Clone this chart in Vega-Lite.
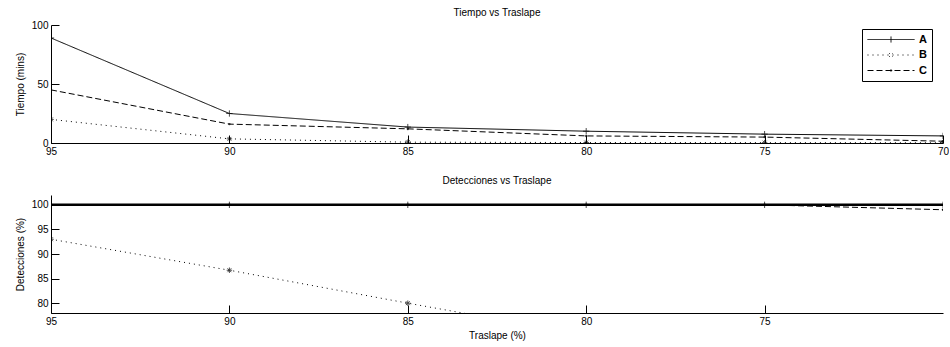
{
  "$schema": "https://vega.github.io/schema/vega-lite/v6.json",
  "autosize": {"type": "pad"},
  "padding": {"left": 15, "top": 7, "right": 0, "bottom": 5},
  "background": "white",
  "bounds": "flush",
  "spacing": 52,
  "config": {
    "font": "Liberation Sans",
    "view": {"stroke": null},
    "axis": {
      "grid": false,
      "domainColor": "black",
      "tickColor": "black",
      "labelColor": "black",
      "titleColor": "black",
      "labelFont": "Liberation Sans",
      "titleFont": "Liberation Sans",
      "labelFontSize": 10,
      "titleFontSize": 10,
      "titleFontWeight": "normal",
      "tickSize": -8,
      "labelPadding": 11,
      "labelFlush": false
    },
    "title": {"fontSize": 10, "fontWeight": "normal", "color": "black", "frame": "group", "font": "Liberation Sans"}
  },
  "datasets": {
    "tiempo": [
      {"traslape": 95, "serie": "A", "valor": 89},
      {"traslape": 90, "serie": "A", "valor": 25},
      {"traslape": 85, "serie": "A", "valor": 13.5},
      {"traslape": 80, "serie": "A", "valor": 10},
      {"traslape": 75, "serie": "A", "valor": 7.5},
      {"traslape": 70, "serie": "A", "valor": 6},
      {"traslape": 95, "serie": "B", "valor": 20},
      {"traslape": 90, "serie": "B", "valor": 3.5},
      {"traslape": 85, "serie": "B", "valor": 0.7},
      {"traslape": 80, "serie": "B", "valor": 0.4},
      {"traslape": 75, "serie": "B", "valor": 0.3},
      {"traslape": 70, "serie": "B", "valor": 0.2},
      {"traslape": 95, "serie": "C", "valor": 45},
      {"traslape": 90, "serie": "C", "valor": 16},
      {"traslape": 85, "serie": "C", "valor": 12},
      {"traslape": 80, "serie": "C", "valor": 6},
      {"traslape": 75, "serie": "C", "valor": 5},
      {"traslape": 70, "serie": "C", "valor": 1.5}
    ],
    "detecciones": [
      {"traslape": 95, "serie": "A", "valor": 100},
      {"traslape": 90, "serie": "A", "valor": 100},
      {"traslape": 85, "serie": "A", "valor": 100},
      {"traslape": 80, "serie": "A", "valor": 100},
      {"traslape": 75, "serie": "A", "valor": 100},
      {"traslape": 70, "serie": "A", "valor": 100},
      {"traslape": 95, "serie": "B", "valor": 93},
      {"traslape": 90, "serie": "B", "valor": 86.7},
      {"traslape": 85, "serie": "B", "valor": 80},
      {"traslape": 80, "serie": "B", "valor": 73.5},
      {"traslape": 95, "serie": "C", "valor": 100},
      {"traslape": 90, "serie": "C", "valor": 100},
      {"traslape": 85, "serie": "C", "valor": 100},
      {"traslape": 80, "serie": "C", "valor": 100},
      {"traslape": 75, "serie": "C", "valor": 100},
      {"traslape": 70, "serie": "C", "valor": 99}
    ]
  },
  "vconcat": [
    {
      "title": {"text": "Tiempo vs Traslape", "offset": 2.5},
      "width": 892,
      "height": 118,
      "data": {"name": "tiempo"},
      "encoding": {
        "x": {
          "field": "traslape", "type": "quantitative",
          "scale": {"domain": [70, 95], "reverse": true, "nice": false, "zero": false},
          "axis": {"values": [95, 90, 85, 80, 75, 70], "title": null, "format": "d"}
        },
        "y": {
          "field": "valor", "type": "quantitative",
          "scale": {"domain": [0, 100], "nice": false},
          "axis": {"values": [0, 50, 100], "title": "Tiempo (mins)", "titlePadding": 6}
        }
      },
      "layer": [
        {
          "mark": {"type": "line", "color": "black", "strokeWidth": 1, "clip": true},
          "encoding": {
            "strokeDash": {
              "field": "serie", "type": "nominal",
              "scale": {"domain": ["A", "B", "C"], "range": [[1, 0], [1, 4], [6, 3]]},
              "legend": {
                "title": null,
                "orient": "none",
                "legendX": 811,
                "legendY": 4,
                "strokeColor": "black",
                "fillColor": "white",
                "padding": 5,
                "symbolSize": 100,
                "symbolOffset": 18.5,
                "labelOffset": 22.5,
                "symbolStrokeWidth": 1,
                "symbolStrokeColor": "black",
                "symbolFillColor": "black",
                "labelFontSize": 11,
                "labelFontWeight": "bold",
                "labelColor": "black",
                "rowPadding": 3.5,
                "cornerRadius": 0,
                "encode": {
                  "symbols": {
                    "update": {
                      "shape": {"signal": "datum.value === 'A' ? 'M-4.7,0H4.7M0,-0.6V0.6' : datum.value === 'B' ? 'M-4.7,0H4.7M-0.4,-0.4L0.4,0.4M-0.4,0.4L0.4,-0.4' : 'M-4.7,0H4.7M-0.15,0a0.15,0.15 0 1,0 0.3,0a0.15,0.15 0 1,0 -0.3,0'"}
                    }
                  }
                }
              }
            }
          }
        },
        {
          "transform": [{"filter": "datum.serie === 'A'"}],
          "mark": {"type": "point", "shape": "M-1,0H1M0,-1V1", "size": 40, "filled": false, "color": "black", "strokeWidth": 1, "clip": true}
        },
        {
          "transform": [{"filter": "datum.serie === 'B'"}],
          "mark": {"type": "point", "shape": "M-1,0H1M0,-1V1M-0.7,-0.7L0.7,0.7M-0.7,0.7L0.7,-0.7", "size": 30, "filled": false, "color": "black", "strokeWidth": 1, "clip": true}
        },
        {
          "transform": [{"filter": "datum.serie === 'C'"}],
          "mark": {"type": "point", "shape": "circle", "size": 6, "filled": true, "color": "black", "clip": true}
        }
      ]
    },
    {
      "title": {"text": "Detecciones vs Traslape", "offset": 9},
      "width": 892,
      "height": 118,
      "data": {"name": "detecciones"},
      "encoding": {
        "x": {
          "field": "traslape", "type": "quantitative",
          "scale": {"domain": [70, 95], "reverse": true, "nice": false, "zero": false},
          "axis": {"values": [95, 90, 85, 80, 75], "title": "Traslape (%)", "format": "d", "titlePadding": 4}
        },
        "y": {
          "field": "valor", "type": "quantitative",
          "scale": {"domain": [78, 102], "nice": false, "zero": false},
          "axis": {"values": [80, 85, 90, 95, 100], "title": "Detecciones (%)", "titlePadding": 6}
        }
      },
      "layer": [
        {
          "transform": [{"filter": "datum.serie === 'A'"}],
          "mark": {"type": "line", "color": "black", "strokeWidth": 2.5, "clip": true}
        },
        {
          "transform": [{"filter": "datum.serie !== 'A'"}],
          "mark": {"type": "line", "color": "black", "strokeWidth": 1, "clip": true},
          "encoding": {
            "strokeDash": {
              "field": "serie", "type": "nominal",
              "scale": {"domain": ["A", "B", "C"], "range": [[1, 0], [1, 4], [6, 3]]},
              "legend": null
            }
          }
        },
        {
          "transform": [{"filter": "datum.serie === 'A'"}],
          "mark": {"type": "point", "shape": "M-1,0H1M0,-1V1", "size": 40, "filled": false, "color": "black", "strokeWidth": 1, "clip": true}
        },
        {
          "transform": [{"filter": "datum.serie === 'B'"}],
          "mark": {"type": "point", "shape": "M-1,0H1M0,-1V1M-0.7,-0.7L0.7,0.7M-0.7,0.7L0.7,-0.7", "size": 30, "filled": false, "color": "black", "strokeWidth": 1, "clip": true}
        },
        {
          "transform": [{"filter": "datum.serie === 'C'"}],
          "mark": {"type": "point", "shape": "circle", "size": 6, "filled": true, "color": "black", "clip": true}
        }
      ]
    }
  ]
}
